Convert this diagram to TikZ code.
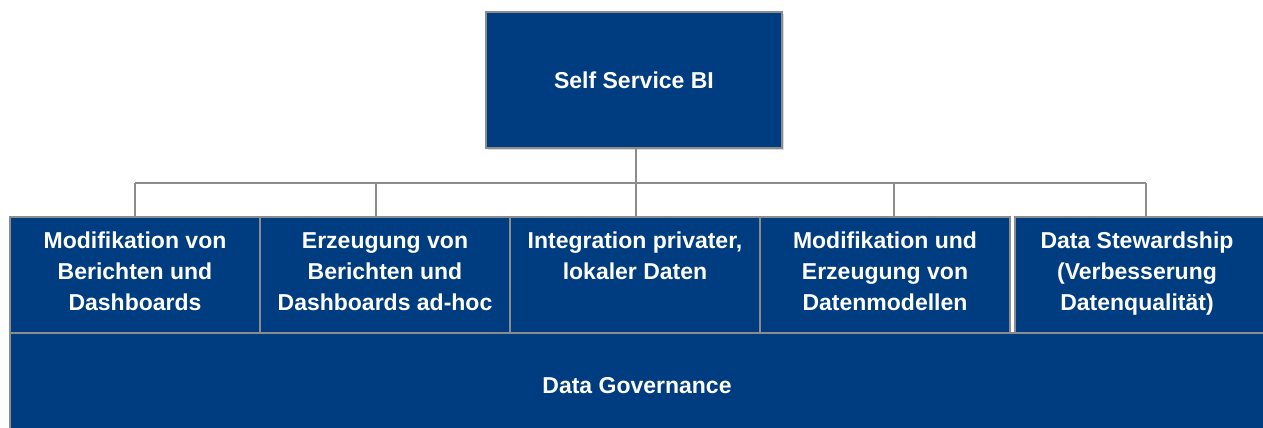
\documentclass[tikz,border=0pt]{standalone}
\usepackage{fontspec}
\setmainfont{Liberation Sans}
\usetikzlibrary{shadows}
\definecolor{boxblue}{RGB}{0,61,128}
\definecolor{linegray}{RGB}{140,140,140}
\tikzset{
  bluebox/.style={fill=boxblue, draw=linegray, line width=1.5pt, inner sep=0pt},
  boxtext/.style={text=white, font=\bfseries\fontsize{23}{31}\selectfont, align=center, inner sep=0pt},
  conn/.style={draw=linegray, line width=1.5pt}
}
\begin{document}
\begin{tikzpicture}[x=1pt,y=-1pt]
\useasboundingbox (0,0) rectangle (1263,428);
% top box
\node[bluebox, minimum width=296pt, minimum height=136pt,
      drop shadow={opacity=0.3, shadow xshift=2pt, shadow yshift=-2pt}] (top) at (634,80) {};
\node[boxtext] (toptext) at (top.center) {Self Service BI};
% bottom box
\node[bluebox, minimum width=1256pt, minimum height=96pt] (gov) at (638,381) {};
\node[boxtext] (govtext) at (637,386) {Data Governance};
% row boxes
\node[bluebox, minimum width=250pt, minimum height=116pt] (b1) at (135,275) {};
\node[bluebox, minimum width=250pt, minimum height=116pt] (b2) at (385,275) {};
\node[bluebox, minimum width=250pt, minimum height=116pt] (b3) at (635,275) {};
\node[bluebox, minimum width=250pt, minimum height=116pt] (b4) at (885,275) {};
\node[bluebox, minimum width=252pt, minimum height=116pt] (b5) at (1141,275) {};
\node[boxtext, anchor=north] (t1) at (135,232) {Modifikation von\\Berichten und\\Dashboards};
\node[boxtext, anchor=north] (t2) at (385,232) {Erzeugung von\\Berichten und\\Dashboards ad-hoc};
\node[boxtext, anchor=north] (t3) at (635,232) {Integration privater,\\lokaler Daten};
\node[boxtext, anchor=north] (t4) at (885,232) {Modifikation und\\Erzeugung von\\Datenmodellen};
\node[boxtext, anchor=north] (t5) at (1137,232) {Data Stewardship\\(Verbesserung\\Datenqualität)};
% connectors
\coordinate (hub) at (636,183);
\coordinate (h1) at (135,183);
\coordinate (h2) at (376,183);
\coordinate (h4) at (894,183);
\coordinate (h5) at (1146,183);
\draw[conn] (top.south -| hub) -- (hub);
\draw[conn] (h1) -- (h5);
\draw[conn] (h1) -- (h1 |- b1.north);
\draw[conn] (h2) -- (h2 |- b2.north);
\draw[conn] (hub) -- (hub |- b3.north);
\draw[conn] (h4) -- (h4 |- b4.north);
\draw[conn] (h5) -- (h5 |- b5.north);
\end{tikzpicture}
\end{document}
